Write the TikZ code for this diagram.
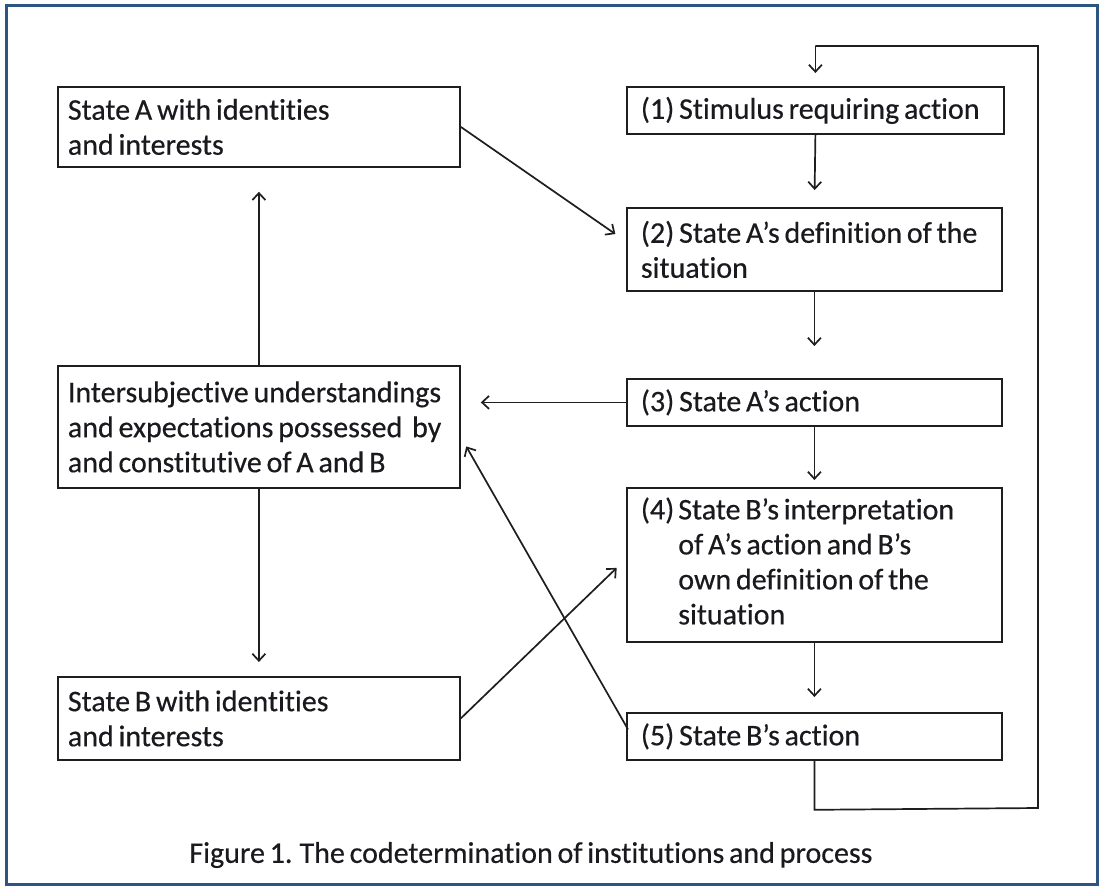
\documentclass[tikz,border=0pt]{standalone}
\usepackage{fontspec}
\setmainfont{Carlito}[Ligatures=NoCommon,FakeBold=0.4]
\usetikzlibrary{arrows.meta,calc}
\definecolor{frameblue}{RGB}{46,84,130}
\definecolor{txt}{RGB}{25,25,30}
\definecolor{ln}{RGB}{30,30,30}
\protected\def\tightsp{\spaceskip=0.16em plus 0.05em\relax}
\protected\def\bxfont{\fontsize{30}{35}\selectfont\tightsp}
\protected\def\capfont{\fontsize{30}{32}\selectfont\tightsp}
\begin{document}
\begin{tikzpicture}[x=1pt,y=-1pt,
  box/.style={draw=ln,line width=1.8pt,rectangle,anchor=north west,
    inner xsep=10pt,inner ysep=0pt,text=txt,font=\bxfont,
    execute at begin node=\tightsp},
  arr/.style={draw=ln,line width=1.7pt,-{Straight Barb[length=7pt,width=13pt,line width=1.7pt]}},
  ln/.style={draw=ln,line width=1.7pt}]
\useasboundingbox (0,0) rectangle (1103,888);
\fill[white] (0,0) rectangle (1103,888);
\draw[frameblue,line width=3pt] (6,6) rectangle (1097,884);
% left boxes
\node[box,minimum width=402pt,minimum height=80pt,text width=382pt] (A) at (57,86) {State A with identities\\and interests};
\node[box,minimum width=402pt,minimum height=122pt,text width=382pt] (I) at (57,365) {Intersubjective understandings\\and expectations possessed\, by\\and constitutive of A and B};
\node[box,minimum width=402pt,minimum height=83pt,text width=382pt] (B) at (57,676) {State B with identities\\and interests};
% right boxes
\node[box,inner xsep=14pt,minimum width=377pt,minimum height=47pt,text width=349pt] (s1) at (626,86) {(1) Stimulus requiring action};
\node[box,inner xsep=14pt,minimum width=375pt,minimum height=83pt,text width=347pt] (s2) at (626,207) {(2) State A's definition of the\\situation};
\node[box,inner xsep=14pt,minimum width=375pt,minimum height=47pt,text width=347pt] (s3) at (626,378) {(3) State A's action};
\node[box,inner xsep=14pt,minimum width=375pt,minimum height=154pt,text width=347pt] (s4) at (626,487) {\begin{tabular}{@{}l@{\hspace{4pt}}l@{}}(4)&\tightsp State B's interpretation\\&\tightsp of A's action and B's\\&\tightsp own definition of the\\&situation\end{tabular}};
\node[box,inner xsep=14pt,minimum width=375pt,minimum height=47pt,text width=347pt] (s5) at (626,712) {(5) State B's action};
% vertical chain
\draw[arr,shorten >=17pt] (s1.south) -- (s2.north);
\draw[arr,shorten >=32pt] (s2.south) -- (s3.north);
\draw[arr,shorten >=7pt] (s3.south) -- (s4.north);
\draw[arr,shorten >=15pt] (s4.south) -- (s5.north);
% loop
\coordinate (lb) at ($(s5.south)+(0,49)$);
\coordinate (rb) at (1038,808);
\coordinate (rt) at (1038,46);
\coordinate (lt) at ($(s1.north)+(0,-40)$);
\draw[ln] (s5.south) -- (lb) -- (rb) -- (rt) -- (lt);
\draw[arr,shorten >=13pt] (lt) -- (s1.north);
% left verticals
\draw[arr,shorten >=24pt] (I.north) -- (A.south);
\draw[arr,shorten >=14pt] (I.south) -- (B.north);
% horizontal 3 -> I
\draw[arr,shorten >=20pt] (s3.west) -- (s3.west -| I.east);
% diagonals
\draw[arr,shorten >=13pt] (A.east) -- ($(s2.west)+(0,-8)$);
\draw[arr,shorten >=13pt] (B.east) -- ($(s4.west)+(0,-6)$);
\coordinate (s5a) at ($(s5.west)+(2,-7)$);
\draw[arr,shorten >=11pt] (s5a) -- ($(I.east)+(0,10)$);
% caption
\node[text=txt,font=\capfont] (cap) at (531,855) {Figure 1. The codetermination of institutions and process};
\end{tikzpicture}
\end{document}
